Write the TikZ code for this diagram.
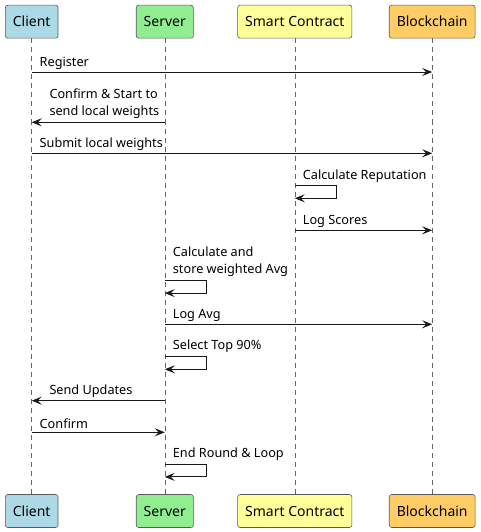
\documentclass[tikz,border=0pt]{standalone}
\usepackage{fontspec}
\setmainfont{Noto Sans}
\usetikzlibrary{arrows.meta}
\definecolor{clientblue}{HTML}{ADD8E6}
\definecolor{servergreen}{HTML}{90EE90}
\definecolor{contractyellow}{HTML}{FFFF99}
\definecolor{chainorange}{HTML}{FFCC66}
\tikzstyle{actor}=[
        draw=black!65,
        line width=0.6pt,
        rounded corners=2.5pt,
        minimum height=33pt,
        inner xsep=7.5pt,
        font=\fontsize{14}{16}\selectfont
]
\tikzstyle{lifeline}=[
        draw=black!60,
        line width=0.6pt,
        dash pattern=on 5pt off 4pt
]
\tikzstyle{message}=[
        draw=black!90,
        line width=0.9pt,
        -{Stealth[length=10pt,width=8pt,inset=4pt]}
]
\tikzstyle{msglabel}=[
        anchor=west,
        inner sep=0pt,
        align=left,
        font=\fontsize{12.7}{16.7}\selectfont
]

\begin{document}
\begin{tikzpicture}[x=1pt,y=-1pt]
                        \useasboundingbox (0,0) rectangle (480,532);

                        \node[actor, fill=clientblue] (client) at (31.7,21.7) {Client};
                        \node[actor, fill=servergreen] (server) at (164.8,21.7) {Server};
                        \node[actor, fill=contractyellow] (contract) at (294.8,21.7) {Smart Contract};
                        \node[actor, fill=chainorange] (chain) at (432.2,21.7) {Blockchain};

                        \node[actor, fill=clientblue] (bclient) at (31.7,511) {Client};
                        \node[actor, fill=servergreen] (bserver) at (164.8,511) {Server};
                        \node[actor, fill=contractyellow] (bcontract) at (294.8,511) {Smart Contract};
                        \node[actor, fill=chainorange] (bchain) at (432.2,511) {Blockchain};

                        \foreach \p in {client,server,contract,chain} {
                            \draw[lifeline] (\p.south) -- (b\p.north);
                        }

                        \coordinate (register) at (0,72);
                        \coordinate (confirmstart) at (0,122.3);
                        \coordinate (submit) at (0,153.3);
                        \coordinate (reputation) at (0,185.7);
                        \coordinate (logscores) at (0,230.3);
                        \coordinate (weightedavg) at (0,280.5);
                        \coordinate (logavg) at (0,324.3);
                        \coordinate (topninety) at (0,356.7);
                        \coordinate (sendupdates) at (0,400.7);
                        \coordinate (confirm) at (0,432.3);
                        \coordinate (endround) at (0,464.3);

                        \node[msglabel] (lregister) at (39.5,63) {Register};
                        \draw[message] (client |- register) -- (chain |- register);

                        \node[msglabel] (lconfirmstart) at (49.3,104) {Confirm \& Start to\\send local weights};
                        \draw[message] (server |- confirmstart) -- (client |- confirmstart);

                        \node[msglabel] (lsubmit) at (39.5,144.2) {Submit local weights};
                        \draw[message] (client |- submit) -- (chain |- submit);

                        \node[msglabel] (lreputation) at (302.7,176.5) {Calculate Reputation};
                        \draw[message] (contract |- reputation) -- ++(41.5,0) -- ++(0,12.6) -- ++(-41.5,0);

                        \node[msglabel] (llogscores) at (302.7,221.5) {Log Scores};
                        \draw[message] (contract |- logscores) -- (chain |- logscores);

                        \node[msglabel] (lweightedavg) at (172.7,261.5) {Calculate and\\store weighted Avg};
                        \draw[message] (server |- weightedavg) -- ++(42,0) -- ++(0,12.6) -- ++(-42,0);

                        \node[msglabel] (llogavg) at (172.7,315.8) {Log Avg};
                        \draw[message] (server |- logavg) -- (chain |- logavg);

                        \node[msglabel] (ltopninety) at (172.7,346.5) {Select Top 90\%};
                        \draw[message] (server |- topninety) -- ++(42,0) -- ++(0,12.6) -- ++(-42,0);

                        \node[msglabel] (lsendupdates) at (49.3,391.5) {Send Updates};
                        \draw[message] (server |- sendupdates) -- (client |- sendupdates);

                        \node[msglabel] (lconfirm) at (39.5,423.5) {Confirm};
                        \draw[message] (client |- confirm) -- (server |- confirm);

                        \node[msglabel] (lendround) at (172.7,454.5) {End Round \& Loop};
                        \draw[message] (server |- endround) -- ++(42,0) -- ++(0,12.6) -- ++(-42,0);

                    \end{tikzpicture}
\end{document}
